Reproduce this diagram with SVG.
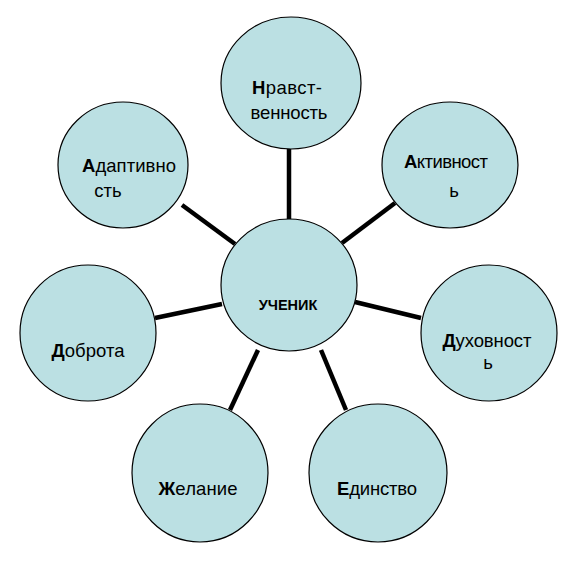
<svg xmlns="http://www.w3.org/2000/svg" width="577" height="577" viewBox="0 0 577 577">
<style>
.n{fill:#BBE0E3;stroke:#000;stroke-width:1.2}
.t{font-family:"Liberation Sans",Arial,sans-serif;font-size:18.5px;fill:#000;text-anchor:middle}
.b{font-weight:bold}
.c{stroke:#000;stroke-width:4.5;stroke-linecap:butt}
</style>
<rect width="577" height="577" fill="#fff"/>
<g id="connectors">
<line class="c" x1="289" y1="148" x2="289" y2="219"/>
<line class="c" x1="182" y1="205" x2="235" y2="244"/>
<line class="c" x1="395" y1="203" x2="342" y2="243"/>
<line class="c" x1="155" y1="318" x2="222" y2="304"/>
<line class="c" x1="421" y1="318" x2="355" y2="302"/>
<line class="c" x1="230" y1="410" x2="258" y2="350"/>
<line class="c" x1="346" y1="410" x2="321" y2="350"/>
</g>
<g id="center">
<ellipse class="n" cx="289" cy="285" rx="68" ry="66"/>
<text class="t b" x="288" y="310" style="font-size:14.5px">УЧЕНИК</text>
</g>
<g id="nravst">
<ellipse class="n" cx="291" cy="83" rx="70" ry="66"/>
<text class="t" x="287" y="94" textLength="70"><tspan class="b">Н</tspan>равст-</text>
<text class="t" x="289" y="119" textLength="77">венность</text>
</g>
<g id="adapt">
<ellipse class="n" cx="123" cy="165" rx="65" ry="63"/>
<text class="t" x="129" y="172" textLength="94"><tspan class="b">А</tspan>даптивно</text>
<text class="t" x="108" y="197">сть</text>
</g>
<g id="aktiv">
<ellipse class="n" cx="450" cy="165" rx="68" ry="63"/>
<text class="t" x="446" y="168" textLength="84"><tspan class="b">А</tspan>ктивност</text>
<text class="t" x="454" y="197">ь</text>
</g>
<g id="dobrota">
<ellipse class="n" cx="88" cy="333" rx="68" ry="68"/>
<text class="t" x="88" y="357" textLength="73"><tspan class="b">Д</tspan>оброта</text>
</g>
<g id="dukh">
<ellipse class="n" cx="489" cy="333" rx="68" ry="68"/>
<text class="t" x="487" y="347" textLength="89"><tspan class="b">Д</tspan>уховност</text>
<text class="t" x="488" y="369">ь</text>
</g>
<g id="zhel">
<ellipse class="n" cx="200" cy="473" rx="68" ry="69"/>
<text class="t" x="198" y="495" textLength="79"><tspan class="b">Ж</tspan>елание</text>
</g>
<g id="edin">
<ellipse class="n" cx="378" cy="473" rx="69" ry="69"/>
<text class="t" x="377" y="495" textLength="80"><tspan class="b">Е</tspan>динство</text>
</g>
</svg>
